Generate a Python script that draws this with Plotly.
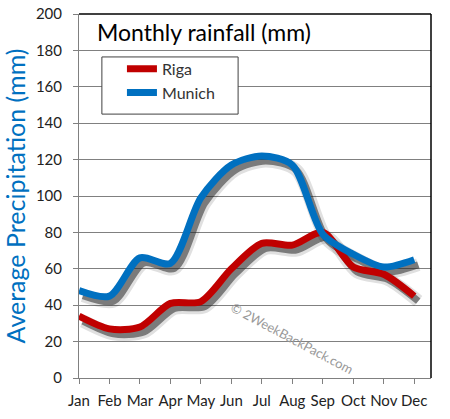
import plotly.graph_objects as go

months = ["Jan", "Feb", "Mar", "Apr", "May", "Jun", "Jul", "Aug", "Sep", "Oct", "Nov", "Dec"]
riga = [34, 27, 28, 41, 42, 60, 74, 73, 80, 61, 57, 45]
munich = [48, 45, 66, 63, 99, 117, 122, 117, 79, 68, 61, 65]
y_ticks = [0, 20, 40, 60, 80, 100, 120, 140, 160, 180, 200]

RED = "#C00000"
BLUE = "#0070C0"
FONT = "Lato"

W, H = 450, 419
ML, MR, MT, MB = 79, 19, 14, 41
plot_w = W - ML - MR
plot_h = H - MT - MB
x_max = 11.55
y_max = 200
px_per_x = plot_w / x_max
px_per_y = plot_h / y_max
sh_dx, sh_dy = 4, 5  # shadow offset in pixels

fig = go.Figure()

# shadows (same data, drawn on main axes shifted by a few pixels)
for data in (riga, munich):
    fig.add_trace(go.Scatter(x=months, y=data, mode="lines", showlegend=False, hoverinfo="skip",
                             line=dict(color="rgba(0,0,0,0.12)", width=13, shape="spline", smoothing=0.8),
                             xaxis="x", yaxis="y"))
    fig.add_trace(go.Scatter(x=months, y=data, mode="lines", showlegend=False, hoverinfo="skip",
                             line=dict(color="rgba(40,40,40,0.55)", width=7, shape="spline", smoothing=0.8),
                             xaxis="x", yaxis="y"))

# real lines on overlay axes
fig.add_trace(go.Scatter(x=months, y=riga, mode="lines", name="Riga",
                         line=dict(color=RED, width=7, shape="spline", smoothing=0.8),
                         xaxis="x2", yaxis="y2"))
fig.add_trace(go.Scatter(x=months, y=munich, mode="lines", name="Munich",
                         line=dict(color=BLUE, width=7, shape="spline", smoothing=0.8),
                         xaxis="x2", yaxis="y2"))

fig.update_layout(
    width=W, height=H,
    margin=dict(l=ML, r=MR, t=MT, b=MB, autoexpand=False),
    paper_bgcolor="white", plot_bgcolor="white",
    font=dict(family=FONT, size=15, color="#222"),
    xaxis=dict(type="category", range=[-sh_dx / px_per_x, x_max - sh_dx / px_per_x], automargin=False,
               showticklabels=False, showgrid=False, zeroline=False, showline=False, ticks=""),
    yaxis=dict(range=[sh_dy / px_per_y, y_max + sh_dy / px_per_y], automargin=False,
               showticklabels=False, showgrid=False, zeroline=False, showline=False, ticks=""),
    xaxis2=dict(type="category", overlaying="x", range=[0, x_max], anchor="y2", automargin=False,
                showgrid=False, zeroline=False, showline=True, linecolor="#808080", linewidth=1,
                ticks="outside", ticklen=5, tickcolor="#808080", ticklabelstandoff=4,
                tickfont=dict(family=FONT, size=15, color="#222")),
    yaxis2=dict(overlaying="y", range=[0, y_max], anchor="x2", side="left", automargin=False,
                tickvals=y_ticks, showgrid=True, gridcolor="#808080", gridwidth=1,
                zeroline=False, showline=True, linecolor="#808080", linewidth=1,
                ticks="outside", ticklen=5, tickcolor="#808080", ticklabelstandoff=8,
                tickfont=dict(family=FONT, size=15, color="#222"),
                title=dict(text="Average Precipitation (mm)", standoff=10,
                           font=dict(family=FONT, size=25, color=BLUE))),
    legend=dict(x=0.122, y=0.896, xanchor="left", yanchor="top",
                borderwidth=0, bgcolor="rgba(0,0,0,0)",
                font=dict(family=FONT, size=16, color="#333"), tracegroupgap=0),
    shapes=[
        dict(type="rect", xref="paper", yref="paper", x0=0.065, x1=0.452, y0=0.725, y1=0.882,
             layer="above", fillcolor="white", line=dict(color="#404040", width=1)),
        dict(type="line", xref="paper", yref="paper", x0=0, x1=1, y0=1, y1=1,
             line=dict(color="black", width=1.5)),
        dict(type="line", xref="paper", yref="paper", x0=1, x1=1, y0=0, y1=1,
             line=dict(color="black", width=1.5)),
    ],
    annotations=[
        dict(text="Monthly rainfall (mm)", xref="paper", yref="paper", x=0.046, y=0.95,
             xanchor="left", yanchor="middle", showarrow=False,
             font=dict(family=FONT, size=23, color="black")),
        dict(text="© 2WeekBackPack.com", xref="paper", yref="paper", x=0.605, y=0.11,
             xanchor="center", yanchor="middle", showarrow=False, textangle=28,
             font=dict(family=FONT, size=13, color="#999")),
    ],
)

fig.write_html("out.html", config={"displayModeBar": False},
               post_script="document.body.style.margin='0';")
